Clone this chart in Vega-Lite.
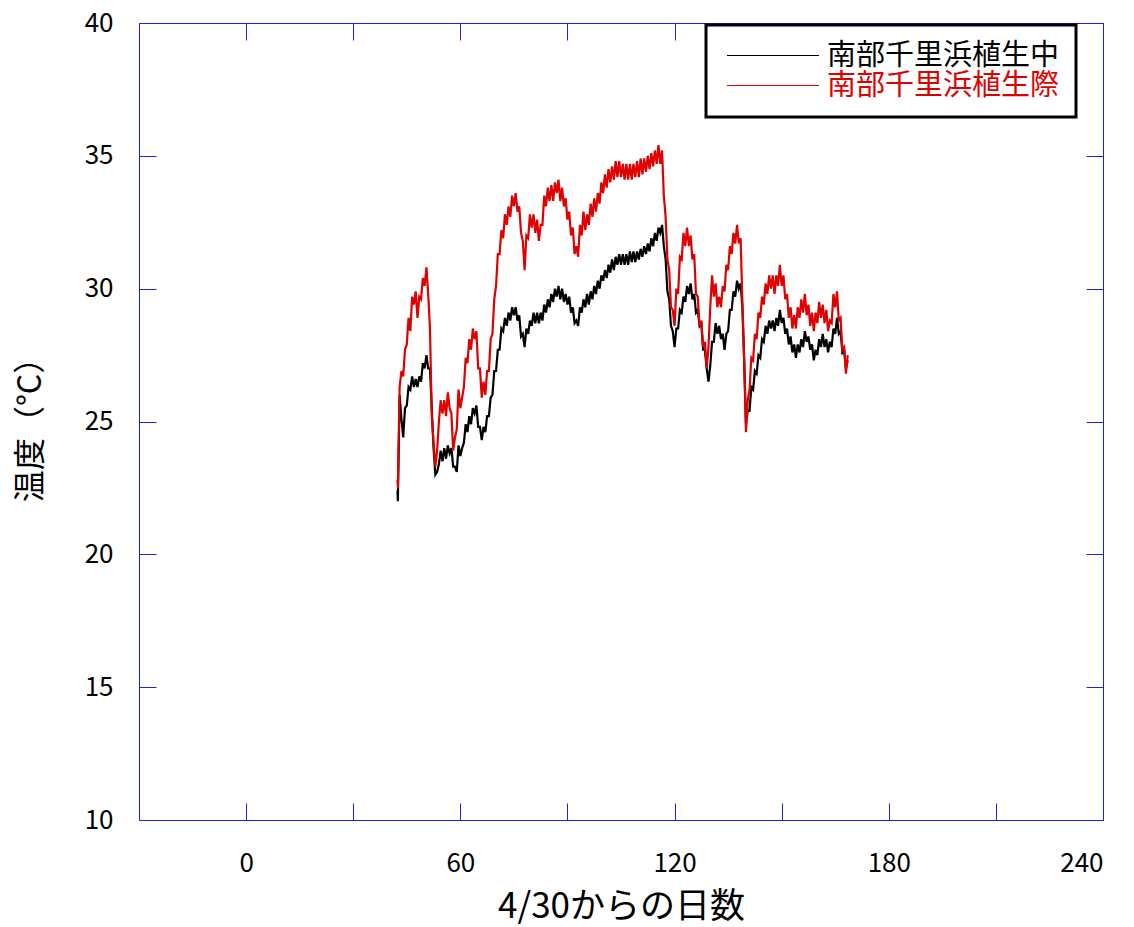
{
  "$schema": "https://vega.github.io/schema/vega-lite/v6.json",
  "width": 964,
  "height": 797,
  "autosize": {"type": "none"},
  "padding": {"left": 139, "top": 23, "right": 31, "bottom": 107},
  "background": "white",
  "config": {
    "view": {"stroke": "#1f1fe6", "strokeWidth": 1},
    "font": "Noto Sans CJK JP",
    "axis": {"domain": false, "grid": false, "tickColor": "#1f1fe6", "tickSize": -17, "labelColor": "black", "titleColor": "black", "labelFont": "Noto Sans CJK JP", "titleFont": "Noto Sans CJK JP", "titleFontWeight": "normal", "labelFontSize": 26, "titleFontSize": 34},
    "legend": {"strokeColor": "black", "strokeWidth": 3, "fillColor": "white"}
  },
  "data": {"values": [
    {"d":42.4,"b":22.4,"r":22.8},{"d":42.5,"b":22.0,"r":22.5},{"d":43.0,"b":26.0,"r":26.3},{"d":43.5,"b":25.1,"r":26.9},{"d":44.0,"b":24.4,"r":26.7},{"d":44.5,"b":25.5,"r":27.7},{"d":45.0,"b":25.6,"r":27.9},{"d":45.5,"b":26.3,"r":28.9},{"d":46.0,"b":26.2,"r":28.4},{"d":46.5,"b":26.7,"r":29.7},{"d":47.0,"b":26.3,"r":29.4},{"d":47.5,"b":26.6,"r":29.9},{"d":48.0,"b":26.3,"r":28.9},{"d":48.5,"b":26.7,"r":29.7},{"d":49.0,"b":26.5,"r":29.6},{"d":49.5,"b":27.2,"r":30.4},{"d":50.0,"b":27.0,"r":30.1},{"d":50.5,"b":27.5,"r":30.8},{"d":51.0,"b":27.0,"r":29.8},{"d":51.5,"b":27.0,"r":28.5},{"d":52.0,"b":25.5,"r":25.2},{"d":52.5,"b":24.0,"r":24.2},{"d":53.0,"b":23.0,"r":23.3},{"d":53.5,"b":23.1,"r":23.9},{"d":54.0,"b":23.4,"r":25.0},{"d":54.5,"b":23.9,"r":25.8},{"d":55.0,"b":23.5,"r":25.3},{"d":55.5,"b":24.0,"r":25.8},{"d":56.0,"b":23.6,"r":25.2},{"d":56.5,"b":24.1,"r":26.1},{"d":57.0,"b":23.8,"r":25.5},{"d":57.5,"b":24.0,"r":25.3},{"d":58.0,"b":23.3,"r":23.9},{"d":58.5,"b":23.3,"r":24.4},{"d":59.0,"b":23.1,"r":24.7},{"d":59.5,"b":24.1,"r":26.2},{"d":60.0,"b":23.7,"r":25.5},{"d":60.5,"b":24.0,"r":25.9},{"d":61.0,"b":24.2,"r":26.3},{"d":61.5,"b":24.9,"r":27.4},{"d":62.0,"b":24.6,"r":27.2},{"d":62.5,"b":25.2,"r":28.1},{"d":63.0,"b":24.9,"r":27.7},{"d":63.5,"b":25.5,"r":28.5},{"d":64.0,"b":25.3,"r":28.1},{"d":64.5,"b":25.6,"r":28.4},{"d":65.0,"b":24.8,"r":27.0},{"d":65.5,"b":24.8,"r":27.0},{"d":66.0,"b":24.3,"r":25.9},{"d":66.5,"b":24.8,"r":26.5},{"d":67.0,"b":24.6,"r":26.0},{"d":67.5,"b":25.2,"r":26.9},{"d":68.0,"b":25.2,"r":26.9},{"d":68.5,"b":25.9,"r":28.1},{"d":69.0,"b":26.0,"r":28.3},{"d":69.5,"b":26.9,"r":29.6},{"d":70.0,"b":26.9,"r":30.1},{"d":70.5,"b":27.7,"r":31.3},{"d":71.0,"b":27.7,"r":31.3},{"d":71.5,"b":28.5,"r":32.2},{"d":72.0,"b":28.4,"r":31.9},{"d":72.5,"b":28.9,"r":32.8},{"d":73.0,"b":28.6,"r":32.4},{"d":73.5,"b":29.1,"r":33.1},{"d":74.0,"b":28.8,"r":32.7},{"d":74.5,"b":29.3,"r":33.5},{"d":75.0,"b":29.0,"r":33.1},{"d":75.5,"b":29.3,"r":33.6},{"d":76.0,"b":28.8,"r":32.9},{"d":76.5,"b":29.0,"r":33.1},{"d":77.0,"b":28.2,"r":32.1},{"d":77.5,"b":28.3,"r":31.8},{"d":78.0,"b":27.8,"r":30.7},{"d":78.5,"b":28.5,"r":32.0},{"d":79.0,"b":28.3,"r":31.9},{"d":79.5,"b":28.8,"r":32.8},{"d":80.0,"b":28.6,"r":32.3},{"d":80.5,"b":29.1,"r":32.8},{"d":81.0,"b":28.7,"r":32.1},{"d":81.5,"b":29.1,"r":32.6},{"d":82.0,"b":28.7,"r":31.8},{"d":82.5,"b":29.1,"r":32.4},{"d":83.0,"b":28.8,"r":32.4},{"d":83.5,"b":29.4,"r":33.5},{"d":84.0,"b":29.1,"r":33.1},{"d":84.5,"b":29.6,"r":33.8},{"d":85.0,"b":29.3,"r":33.3},{"d":85.5,"b":29.8,"r":33.9},{"d":86.0,"b":29.5,"r":33.3},{"d":86.5,"b":30.0,"r":34.0},{"d":87.0,"b":29.7,"r":33.6},{"d":87.5,"b":30.1,"r":34.1},{"d":88.0,"b":29.6,"r":33.3},{"d":88.5,"b":30.0,"r":33.8},{"d":89.0,"b":29.5,"r":33.1},{"d":89.5,"b":29.8,"r":33.4},{"d":90.0,"b":29.4,"r":32.6},{"d":90.5,"b":29.7,"r":32.9},{"d":91.0,"b":29.1,"r":32.0},{"d":91.5,"b":29.3,"r":32.3},{"d":92.0,"b":28.7,"r":31.3},{"d":92.5,"b":28.8,"r":31.6},{"d":93.0,"b":28.6,"r":31.2},{"d":93.5,"b":29.3,"r":32.4},{"d":94.0,"b":29.1,"r":32.0},{"d":94.5,"b":29.6,"r":32.9},{"d":95.0,"b":29.3,"r":32.2},{"d":95.5,"b":29.8,"r":32.8},{"d":96.0,"b":29.4,"r":32.4},{"d":96.5,"b":29.9,"r":33.2},{"d":97.0,"b":29.6,"r":32.7},{"d":97.5,"b":30.1,"r":33.4},{"d":98.0,"b":29.8,"r":32.9},{"d":98.5,"b":30.3,"r":33.6},{"d":99.0,"b":30.0,"r":33.2},{"d":99.5,"b":30.5,"r":34.0},{"d":100.0,"b":30.3,"r":33.6},{"d":100.5,"b":30.7,"r":34.3},{"d":101.0,"b":30.4,"r":33.8},{"d":101.5,"b":30.9,"r":34.5},{"d":102.0,"b":30.6,"r":34.0},{"d":102.5,"b":31.1,"r":34.6},{"d":103.0,"b":30.7,"r":34.1},{"d":103.5,"b":31.2,"r":34.8},{"d":104.0,"b":30.9,"r":34.2},{"d":104.5,"b":31.3,"r":34.8},{"d":105.0,"b":30.9,"r":34.2},{"d":105.5,"b":31.3,"r":34.7},{"d":106.0,"b":30.9,"r":34.1},{"d":106.5,"b":31.3,"r":34.7},{"d":107.0,"b":30.9,"r":34.1},{"d":107.5,"b":31.4,"r":34.7},{"d":108.0,"b":31.0,"r":34.1},{"d":108.5,"b":31.4,"r":34.7},{"d":109.0,"b":31.0,"r":34.2},{"d":109.5,"b":31.4,"r":34.8},{"d":110.0,"b":31.1,"r":34.2},{"d":110.5,"b":31.5,"r":34.9},{"d":111.0,"b":31.2,"r":34.3},{"d":111.5,"b":31.6,"r":34.9},{"d":112.0,"b":31.3,"r":34.4},{"d":112.5,"b":31.7,"r":35.0},{"d":113.0,"b":31.4,"r":34.5},{"d":113.5,"b":31.9,"r":35.1},{"d":114.0,"b":31.6,"r":34.6},{"d":114.5,"b":32.1,"r":35.2},{"d":115.0,"b":31.8,"r":34.7},{"d":115.5,"b":32.3,"r":35.4},{"d":116.0,"b":32.1,"r":34.7},{"d":116.5,"b":32.4,"r":35.2},{"d":117.0,"b":31.6,"r":33.5},{"d":117.5,"b":31.1,"r":32.7},{"d":118.0,"b":29.9,"r":31.1},{"d":118.5,"b":29.6,"r":30.7},{"d":119.0,"b":28.6,"r":29.3},{"d":119.5,"b":28.4,"r":29.2},{"d":120.0,"b":27.8,"r":28.6},{"d":120.5,"b":28.5,"r":30.0},{"d":121.0,"b":28.5,"r":29.8},{"d":121.5,"b":29.2,"r":31.2},{"d":122.0,"b":29.1,"r":31.1},{"d":122.5,"b":29.7,"r":32.1},{"d":123.0,"b":29.5,"r":31.6},{"d":123.5,"b":30.1,"r":32.3},{"d":124.0,"b":29.8,"r":31.6},{"d":124.5,"b":30.2,"r":32.0},{"d":125.0,"b":29.6,"r":31.1},{"d":125.5,"b":29.8,"r":31.3},{"d":126.0,"b":29.1,"r":29.8},{"d":126.5,"b":29.2,"r":29.7},{"d":127.0,"b":28.6,"r":28.6},{"d":127.5,"b":28.7,"r":28.8},{"d":128.0,"b":27.7,"r":27.8},{"d":128.5,"b":27.7,"r":28.0},{"d":129.0,"b":27.0,"r":27.0},{"d":129.5,"b":26.5,"r":27.8},{"d":130.0,"b":27.1,"r":29.3},{"d":130.5,"b":28.0,"r":30.5},{"d":131.0,"b":28.0,"r":29.7},{"d":131.5,"b":28.7,"r":30.2},{"d":132.0,"b":28.3,"r":29.3},{"d":132.5,"b":28.6,"r":29.7},{"d":133.0,"b":28.1,"r":29.3},{"d":133.5,"b":28.3,"r":30.1},{"d":134.0,"b":27.7,"r":29.9},{"d":134.5,"b":28.3,"r":30.9},{"d":135.0,"b":28.4,"r":30.7},{"d":135.5,"b":29.2,"r":31.6},{"d":136.0,"b":29.2,"r":31.3},{"d":136.5,"b":29.9,"r":32.1},{"d":137.0,"b":29.7,"r":31.7},{"d":137.5,"b":30.3,"r":32.4},{"d":138.0,"b":30.0,"r":31.7},{"d":138.5,"b":30.2,"r":31.9},{"d":139.0,"b":29.3,"r":29.5},{"d":139.5,"b":27.3,"r":27.3},{"d":140.0,"b":24.9,"r":24.6},{"d":140.5,"b":25.4,"r":25.8},{"d":141.0,"b":25.4,"r":26.2},{"d":141.5,"b":26.3,"r":27.4},{"d":142.0,"b":26.2,"r":27.3},{"d":142.5,"b":26.9,"r":28.3},{"d":143.0,"b":26.8,"r":28.1},{"d":143.5,"b":27.5,"r":29.1},{"d":144.0,"b":27.4,"r":28.9},{"d":144.5,"b":28.1,"r":29.7},{"d":145.0,"b":28.0,"r":29.4},{"d":145.5,"b":28.6,"r":30.2},{"d":146.0,"b":28.3,"r":29.8},{"d":146.5,"b":28.8,"r":30.5},{"d":147.0,"b":28.5,"r":30.0},{"d":147.5,"b":28.8,"r":30.5},{"d":148.0,"b":28.4,"r":29.8},{"d":148.5,"b":28.9,"r":30.5},{"d":149.0,"b":28.6,"r":30.1},{"d":149.5,"b":29.2,"r":30.9},{"d":150.0,"b":28.7,"r":30.1},{"d":150.5,"b":28.9,"r":30.5},{"d":151.0,"b":28.3,"r":29.6},{"d":151.5,"b":28.5,"r":29.8},{"d":152.0,"b":27.9,"r":28.9},{"d":152.5,"b":28.2,"r":29.3},{"d":153.0,"b":27.6,"r":28.5},{"d":153.5,"b":27.9,"r":29.0},{"d":154.0,"b":27.4,"r":28.5},{"d":154.5,"b":27.9,"r":29.3},{"d":155.0,"b":27.6,"r":28.9},{"d":155.5,"b":28.1,"r":29.6},{"d":156.0,"b":27.8,"r":29.1},{"d":156.5,"b":28.4,"r":29.8},{"d":157.0,"b":28.0,"r":29.0},{"d":157.5,"b":28.2,"r":29.4},{"d":158.0,"b":27.7,"r":28.6},{"d":158.5,"b":27.9,"r":29.1},{"d":159.0,"b":27.3,"r":28.4},{"d":159.5,"b":27.7,"r":29.1},{"d":160.0,"b":27.5,"r":28.7},{"d":160.5,"b":28.1,"r":29.5},{"d":161.0,"b":27.8,"r":28.9},{"d":161.5,"b":28.3,"r":29.4},{"d":162.0,"b":27.8,"r":28.7},{"d":162.5,"b":28.1,"r":29.2},{"d":163.0,"b":27.6,"r":28.4},{"d":163.5,"b":28.0,"r":28.8},{"d":164.0,"b":27.8,"r":28.7},{"d":164.5,"b":28.5,"r":29.8},{"d":165.0,"b":28.3,"r":29.3},{"d":165.5,"b":28.9,"r":29.9},{"d":166.0,"b":28.3,"r":28.8},{"d":166.5,"b":28.4,"r":28.9},{"d":167.0,"b":27.6,"r":27.7},{"d":167.5,"b":27.7,"r":27.8},{"d":168.0,"b":27.0,"r":26.8},{"d":168.5,"b":27.3,"r":27.5}
  ]},
  "transform": [{"fold": ["b", "r"], "as": ["k", "t"]}],
  "layer": [
    {
      "mark": {"type": "line", "strokeWidth": 2.2, "clip": true},
      "encoding": {
        "x": {"field": "d", "type": "quantitative", "scale": {"domain": [-30, 240], "nice": false, "zero": false},
          "axis": {"orient": "bottom", "values": [-30, 0, 30, 60, 90, 120, 150, 180, 210, 240], "labelExpr": "datum.value % 60 === 0 ? datum.label : ''", "labelPadding": 47, "title": "4/30からの日数", "titleFontSize": 35, "titleY": 86, "titleBaseline": "middle"}},
        "y": {"field": "t", "type": "quantitative", "scale": {"domain": [10, 40], "nice": false, "zero": false},
          "axis": {"orient": "left", "values": [10, 15, 20, 25, 30, 35, 40], "labelPadding": 43, "title": "温度（°C）", "titleFontSize": 32, "titleX": -109, "titleBaseline": "middle", "titleAngle": -90}},
        "color": {"field": "k", "type": "nominal",
          "scale": {"domain": ["b", "r"], "range": ["#000000", "#e00000"]},
          "legend": {
            "title": null, "orient": "none", "legendX": 567, "legendY": 2,
            "labelExpr": "datum.value === 'b' ? '南部千里浜植生中' : '南部千里浜植生際'",
            "labelFont": "Noto Sans CJK JP", "labelFontSize": 29, "labelLimit": 400,
            "symbolType": "M-0.826,0H7.174", "symbolSize": 529, "symbolStrokeWidth": 1.2,
            "labelOffset": 76, "rowPadding": -4, "padding": 16,
            "strokeColor": "black",
            "encode": {
              "labels": {"update": {"fill": {"signal": "datum.value === 'b' ? '#000000' : '#e00000'"}}},
              "symbols": {"update": {"stroke": {"signal": "datum.value === 'b' ? '#000000' : '#e00000'"}, "fill": {"value": "transparent"}, "strokeWidth": {"value": 1.2}}}
            }
          }}
      }
    },
    {
      "mark": {"type": "line", "opacity": 0},
      "encoding": {
        "x": {"field": "d", "type": "quantitative", "axis": {"orient": "top", "values": [-30, 0, 30, 60, 90, 120, 150, 180, 210, 240], "labels": false, "title": null}},
        "y": {"field": "t", "type": "quantitative", "axis": {"orient": "right", "values": [10, 15, 20, 25, 30, 35, 40], "labels": false, "title": null}},
        "detail": {"field": "k", "type": "nominal"}
      }
    }
  ],
  "resolve": {"axis": {"x": "independent", "y": "independent"}}
}
